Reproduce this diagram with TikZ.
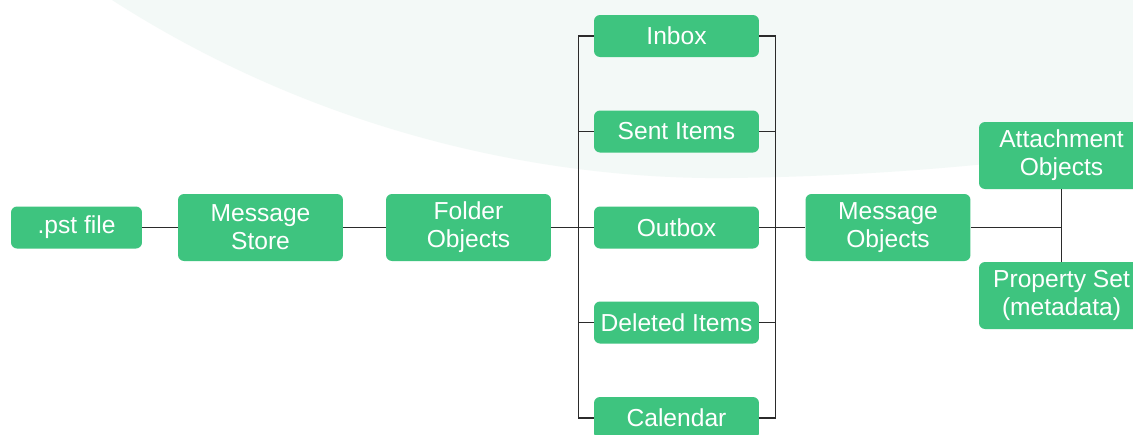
\documentclass[tikz,border=0pt]{standalone}
\usepackage{fontspec}
\setmainfont{Liberation Sans}
\usepackage{xcolor}
\usepackage{tikz}
\usetikzlibrary{positioning,calc}
\definecolor{pgreen}{HTML}{3EC47F}
\definecolor{pwire}{HTML}{2B2B2B}
\definecolor{phaze}{HTML}{F3F9F7}

\begin{document}
\begin{tikzpicture}[x=0.02cm,y=-0.02cm,
    every node/.style={font=\fontsize{14}{16}\selectfont},
    box/.style={fill=pgreen,text=white,rounded corners=0.12cm,align=center,
      minimum width=3.3cm,minimum height=1.34cm,inner sep=0pt},
    slim/.style={box,minimum height=0.84cm},
    wire/.style={draw=pwire,line width=0.85pt}]
  \clip (0,0) rectangle (1133,434);
  \fill[white] (0,0) rectangle (1133,434);
  % pale backdrop arc
  \fill[phaze] (112,0) .. controls (330,140) and (560,180) .. (730,178)
    .. controls (900,176) and (1040,160) .. (1133,145) -- (1133,0) -- cycle;

  % main chain
  \node[slim,minimum width=2.62cm] (pst) at (76.5,227.5) {.pst file};
  \node[box] (store) at (260.5,227.5) {Message\\Store};
  \node[box] (folder) at (468.5,227.5) {Folder\\Objects};

  % folders
  \node[slim] (inbox) at (676.5,36) {Inbox};
  \node[slim] (sent) at (676.5,131.5) {Sent Items};
  \node[slim] (outbox) at (676.5,227.5) {Outbox};
  \node[slim] (deleted) at (676.5,322.5) {Deleted Items};
  \node[slim] (calendar) at (676.5,418) {Calendar};

  % message parts
  \node[box] (msg) at (888,227.5) {Message\\Objects};
  \node[box] (attach) at (1061.5,155.5) {Attachment\\Objects};
  \node[box] (props) at (1061.5,295.5) {Property Set\\(metadata)};

  \draw[wire] (pst) -- (store);
  \draw[wire] (store) -- (folder);
  \draw[wire] (folder) -- (outbox);
  % left and right buses
  \draw[wire] (inbox.west) -- ++(-15,0) |- (calendar.west);
  \draw[wire] (inbox.east) -- ++(16,0) |- (calendar.east);
  \foreach \f in {sent,deleted} {
    \draw[wire] (\f.west) -- ++(-15,0);
    \draw[wire] (\f.east) -- ++(16,0);
  }
  \draw[wire] (outbox) -- (msg);
  \draw[wire] (msg.east) -- (attach.south |- msg.east);
  \draw[wire] (attach) -- (props);
\end{tikzpicture}
\end{document}
